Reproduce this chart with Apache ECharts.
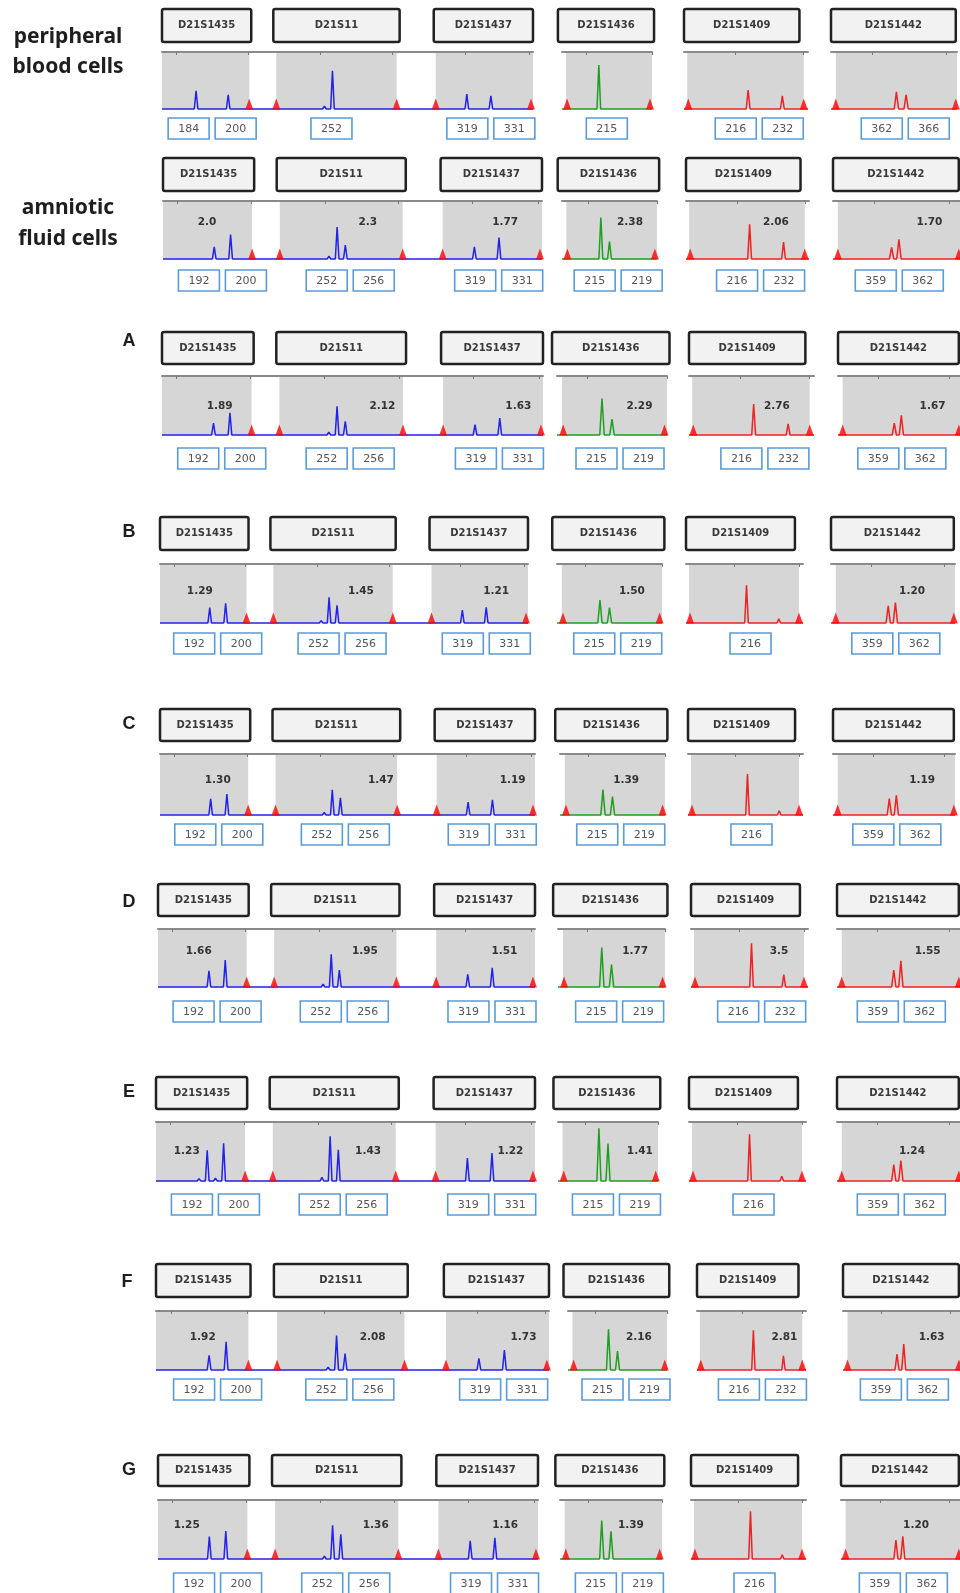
<!DOCTYPE html>
<html>
<head>
<meta charset="utf-8">
<script src="https://cdn.jsdelivr.net/npm/echarts@6/dist/echarts.min.js"></script>
<style>
  html, body { margin: 0; padding: 0; background: #fff; }
  #chart { width: 960px; height: 1593px; }
</style>
</head>
<body>
<div id="chart"></div>
<script>
// ---- data -----------------------------------------------------------------
// STR markers on chromosome 21, in panel order
const loci = ['D21S1435', 'D21S11', 'D21S1437', 'D21S1436', 'D21S1409', 'D21S1442'];

// Sample rows (title lines)
const rowTitles = [
  ['peripheral', 'blood cells'],
  ['amniotic', 'fluid cells'],
  ['A'], ['B'], ['C'], ['D'], ['E'], ['F'], ['G']
];

// Called alleles (fragment size, bp) per row and locus
const alleles = [
  [[184, 200], [252], [319, 331], [215], [216, 232], [362, 366]],
  [[192, 200], [252, 256], [319, 331], [215, 219], [216, 232], [359, 362]],
  [[192, 200], [252, 256], [319, 331], [215, 219], [216, 232], [359, 362]],
  [[192, 200], [252, 256], [319, 331], [215, 219], [216], [359, 362]],
  [[192, 200], [252, 256], [319, 331], [215, 219], [216], [359, 362]],
  [[192, 200], [252, 256], [319, 331], [215, 219], [216, 232], [359, 362]],
  [[192, 200], [252, 256], [319, 331], [215, 219], [216], [359, 362]],
  [[192, 200], [252, 256], [319, 331], [215, 219], [216, 232], [359, 362]],
  [[192, 200], [252, 256], [319, 331], [215, 219], [216], [359, 362]]
];

// Peak heights (% of panel height). null = the taller peak, whose height is
// the other peak's height times the printed peak ratio.
const peakHeights = [
  [[32, 25], [67], [26, 23], [77], [33, 23], [30, 25]],
  [[21, null], [null, 24], [21, null], [null, 30], [null, 29], [20, null]],
  [[20, null], [null, 23], [17.5, null], [null, 27], [null, 19], [20, null]],
  [[26, null], [null, 30], [22, null], [null, 26], [64], [29, null]],
  [[26.5, null], [null, 28], [21, null], [null, 30], [67], [27, null]],
  [[28, null], [null, 29], [22, null], [null, 38.5], [null, 21.5], [29, null]],
  [[52, null], [null, 53], [39, null], [null, 63.5], [79], [28, null]],
  [[25, null], [null, 28], [19.5, null], [null, 32], [null, 24], [27, null]],
  [[38, null], [null, 42], [31, null], [null, 47], [81], [32, null]]
];

// Allele peak-height ratios printed in each panel
const ratios = [
  [null, null, null, null, null, null],
  ['2.0', '2.3', '1.77', '2.38', '2.06', '1.70'],
  ['1.89', '2.12', '1.63', '2.29', '2.76', '1.67'],
  ['1.29', '1.45', '1.21', '1.50', null, '1.20'],
  ['1.30', '1.47', '1.19', '1.39', null, '1.19'],
  ['1.66', '1.95', '1.51', '1.77', '3.5', '1.55'],
  ['1.23', '1.43', '1.22', '1.41', null, '1.24'],
  ['1.92', '2.08', '1.73', '2.16', '2.81', '1.63'],
  ['1.25', '1.36', '1.16', '1.39', null, '1.20']
];

// Uncalled stutter / minor peaks [bp, height] per row, per dye channel
const minorPeaks = [
  [[[180, 3], [196, 3], [248, 5], [315, 2], [327, 2]], [], [], []],
  [[[188, 3], [196, 3], [248, 5], [315, 2], [327, 3]], [], [], []],
  [[[184, 2], [188, 3], [196, 3], [248, 5], [315, 2], [327, 3]], [], [], []],
  [[[184, 2], [188, 2], [196, 3], [248, 4], [315, 2], [327, 2]], [], [[232, 7]], []],
  [[[188, 2], [196, 3], [248, 4], [315, 2], [327, 2]], [], [[232, 7]], []],
  [[[188, 3], [196, 3], [248, 5], [315, 2], [327, 2]], [], [], []],
  [[[188, 4], [196, 5], [248, 6], [315, 3], [327, 3]], [], [[232, 8]], []],
  [[[188, 2], [196, 3], [248, 5], [315, 3], [327, 2]], [], [], []],
  [[[188, 2], [196, 3], [248, 5], [315, 2], [327, 2]], [], [[232, 7]], []]
];

// Internal size-standard peaks (bp) per dye channel
const sizeStandard = [
  [210.5, 224, 284, 303.5, 351],
  [199.5, 240],
  [188, 242],
  [337, 386.5]
];

// ---- layout ---------------------------------------------------------------
// dye channels: blue (3 loci), green, red, red
const channels = [
  { color: '#2222ea', range: [167, 352], bins: [[167, 210.5], [224, 284], [303.5, 352]], ticks: [174, 210, 246, 282, 318, 350] },
  { color: '#1f9f1f', range: [197, 241], bins: [[199, 241]], ticks: [209, 241] },
  { color: '#ee2222', range: [186, 244], bins: [[187.5, 242]], ticks: [210, 242] },
  { color: '#ee2222', range: [335, 387], bins: [[337, 387]], ticks: [352, 382.5] }
];
const locusChannel = [0, 0, 0, 1, 2, 3];
// marker title box extent along each locus' size axis (bp)
const nameSpan = [[167, 211.5], [222.5, 285.5], [302.5, 352], [195, 242], [186, 240], [335, 386.5]];
// horizontal shift (px) of allele tags: pairs / single
const pairShift = [0, 9, 12, 13, -6, 4];
const singleShift = [0, -1, 0, 8, 4, 0];

// per row: left/right pixel edge of the four channel panels
const rowX = [
  [162, 533, 562, 652, 684, 808, 831, 957],
  [163, 542, 562, 657, 686, 809, 833, 960],
  [162, 543, 557, 667, 689, 814, 838, 962],
  [160, 528, 557, 662, 686, 803, 831, 955],
  [160, 535, 560, 665, 688, 803, 833, 955],
  [158, 535, 558, 665, 691, 808, 837, 960],
  [156, 535, 558, 658, 689, 806, 837, 960],
  [156, 549, 568, 667, 697, 806, 843, 960],
  [158, 538, 560, 662, 691, 806, 841, 960]
];
// per row: title box top, title box bottom, panel top, baseline, allele tag top
const rowY = [
  [9, 42, 52, 109, 118],
  [158, 191, 201, 259, 270],
  [332, 364, 376, 435, 448],
  [517, 550, 564, 623, 633],
  [709, 741, 754, 815, 824],
  [884, 916, 929, 987, 1001],
  [1077, 1109, 1122, 1181, 1194],
  [1264, 1297, 1311, 1370, 1379],
  [1455, 1486, 1500, 1559, 1573]
];
// ratio label anchor: bp along the locus axis, and height (% of panel)
const ratioX = [
  [null, null, null, null, null, null],
  [188.5, 267, 334, 228.5, 228.4, 374.5],
  [195, 274, 340, 230, 226.8, 375.3],
  [187, 268, 336, 228.4, null, 369],
  [195.5, 276, 341, 224.7, null, 373],
  [187, 268.5, 337, 228.7, 229.6, 373.3],
  [182, 270.5, 340, 233, null, 366.7],
  [189, 269, 340, 228.5, 232.5, 374.4],
  [181, 273, 336, 227.6, null, 367.8]
];
const ratioY = [null, 64, 48, 54, 57, 61, 50, 55, 58];
const titlePos = [
  [[68, 37], [68, 67]], [[68, 208], [68, 239]],
  [[129, 341]], [[129, 532]], [[129, 724]], [[129, 902]], [[129, 1092]], [[127, 1282]], [[129, 1470]]
];

const HALF = 0.9;          // half base width of a drawn peak, bp
const TAG_W = 41, TAG_H = 21, TAG_GAP = 6;

// ---- build ----------------------------------------------------------------
function peakList(r, c) {
  const out = [];
  loci.forEach((name, li) => {
    if (locusChannel[li] !== c) return;
    const hs = peakHeights[r][li];
    const known = hs.find(h => h != null);
    alleles[r][li].forEach((bp, k) => {
      const h = hs[k] != null ? hs[k] : known * parseFloat(ratios[r][li]);
      out.push([bp, h]);
    });
  });
  minorPeaks[r][c].forEach(p => out.push(p));
  return out.sort((a, b) => a[0] - b[0]);
}

function tracePoints(r, c) {
  const [x0, x1] = channels[c].range;
  const pts = [[x0, 0]];
  peakList(r, c).forEach(([bp, h]) => {
    pts.push([bp - HALF, 0], [bp, h], [bp + HALF, 0]);
  });
  pts.push([x1, 0]);
  return pts;
}

const chart = echarts.init(document.getElementById('chart'));
const grids = [], xAxes = [], yAxes = [], series = [];
const plotIndex = [];
let gi = 0;

rowTitles.forEach((_, r) => {
  plotIndex[r] = [];
  channels.forEach((ch, c) => {
    const L = rowX[r][2 * c], R = rowX[r][2 * c + 1];
    const top = rowY[r][2], base = rowY[r][3];
    grids.push({ left: L, top: top, width: R - L, height: base - top, containLabel: false });
    xAxes.push({
      gridIndex: gi, type: 'value', min: ch.range[0], max: ch.range[1],
      position: 'top', z: 6,
      axisLine: { show: true, onZero: false, lineStyle: { color: '#8a8a8a', width: 2 } },
      axisTick: { show: true, inside: true, length: 3, customValues: ch.ticks, lineStyle: { color: '#777', width: 1 } },
      axisLabel: { show: false }, splitLine: { show: false }
    });
    yAxes.push({ gridIndex: gi, type: 'value', min: 0, max: 100, show: false });

    // marker bins (grey)
    series.push({
      type: 'custom', xAxisIndex: gi, yAxisIndex: gi, silent: true, z: 1,
      data: ch.bins,
      renderItem: (params, api) => {
        const p0 = api.coord([api.value(0), 100]);
        const p1 = api.coord([api.value(1), 0]);
        return { type: 'rect', shape: { x: p0[0], y: p0[1], width: p1[0] - p0[0], height: p1[1] - p0[1] },
                 style: { fill: '#d6d6d6' } };
      }
    });
    // electropherogram trace
    series.push({
      type: 'line', xAxisIndex: gi, yAxisIndex: gi, data: tracePoints(r, c),
      symbol: 'none', silent: true, clip: false, z: 3,
      lineStyle: { color: ch.color, width: 1.5 }
    });
    // size-standard markers
    series.push({
      type: 'scatter', xAxisIndex: gi, yAxisIndex: gi, silent: true, clip: false, z: 4,
      data: sizeStandard[c].map(x => [x, 0]),
      symbol: 'triangle', symbolSize: [8, 11], symbolOffset: [0, -5],
      itemStyle: { color: '#ff0000' }
    });
    plotIndex[r][c] = gi;
    gi++;
  });
});

chart.setOption({
  animation: false,
  backgroundColor: '#ffffff',
  grid: grids, xAxis: xAxes, yAxis: yAxes, series: series
});

// ---- text boxes and labels ------------------------------------------------
const toPx = (g, x, y) => chart.convertToPixel({ gridIndex: g }, [x, y]);
const graphics = [];
const SMALL_FONT = '"DejaVu Sans", Verdana, sans-serif';

rowTitles.forEach((lines, r) => {
  const big = lines.length > 1;
  lines.forEach((t, k) => {
    const [x, y] = titlePos[r][k];
    graphics.push({
      type: 'text', x: x, y: y, z: 100,
      style: {
        text: t, fill: '#1e1e1e', align: 'center', verticalAlign: 'middle',
        font: big ? 'bold 21px "Noto Sans", sans-serif' : 'bold 18px "Liberation Sans", Arial, sans-serif'
      }
    });
  });

  loci.forEach((name, li) => {
    const g = plotIndex[r][locusChannel[li]];
    // marker title box
    const x0 = toPx(g, nameSpan[li][0], 0)[0];
    const x1 = toPx(g, nameSpan[li][1], 0)[0];
    const y0 = rowY[r][0], y1 = rowY[r][1];
    graphics.push({
      type: 'rect', z: 100,
      shape: { x: x0, y: y0, width: x1 - x0, height: y1 - y0, r: 2 },
      style: { fill: '#f2f2f2', stroke: '#222222', lineWidth: 2.5 }
    });
    graphics.push({
      type: 'text', z: 101, x: (x0 + x1) / 2, y: (y0 + y1) / 2,
      style: { text: name, fill: '#3a3a3a', align: 'center', verticalAlign: 'middle', font: 'bold 10px ' + SMALL_FONT }
    });

    // allele tags
    const al = alleles[r][li];
    const xs = al.map(a => toPx(g, a, 0)[0]);
    let centers;
    if (al.length === 2) {
      const mid = (xs[0] + xs[1]) / 2 + pairShift[li];
      const d = (TAG_W + TAG_GAP) / 2;
      centers = [mid - d, mid + d];
    } else {
      centers = [xs[0] + singleShift[li]];
    }
    const ty = rowY[r][4];
    al.forEach((a, k) => {
      graphics.push({
        type: 'rect', z: 100,
        shape: { x: centers[k] - TAG_W / 2, y: ty, width: TAG_W, height: TAG_H },
        style: { fill: '#ffffff', stroke: '#5b9bd5', lineWidth: 1.6 }
      });
      graphics.push({
        type: 'text', z: 101, x: centers[k], y: ty + TAG_H / 2 + 0.5,
        style: { text: String(a), fill: '#555555', align: 'center', verticalAlign: 'middle', font: '11px ' + SMALL_FONT }
      });
    });

    // peak ratio
    if (ratios[r][li]) {
      const p = toPx(g, ratioX[r][li], ratioY[r]);
      graphics.push({
        type: 'text', z: 102, x: p[0], y: p[1],
        style: { text: ratios[r][li], fill: '#333333', align: 'center', verticalAlign: 'middle', font: 'bold 10.5px ' + SMALL_FONT }
      });
    }
  });
});

chart.setOption({ graphic: { elements: graphics } });
</script>
</body>
</html>
